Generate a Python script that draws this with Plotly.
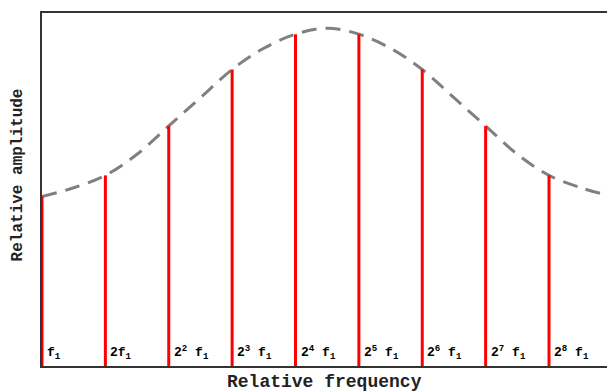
import plotly.graph_objects as go

# harmonic positions (index of 2^n) and their relative amplitudes
harmonics = [0, 1, 2, 3, 4, 5, 6, 7, 8]
amplitudes = [0.48, 0.54, 0.68, 0.84, 0.94, 0.94, 0.84, 0.68, 0.54]
labels = ["f<sub>1</sub>", "2f<sub>1</sub>", "2<sup>2</sup> f<sub>1</sub>",
          "2<sup>3</sup> f<sub>1</sub>", "2<sup>4</sup> f<sub>1</sub>",
          "2<sup>5</sup> f<sub>1</sub>", "2<sup>6</sup> f<sub>1</sub>",
          "2<sup>7</sup> f<sub>1</sub>", "2<sup>8</sup> f<sub>1</sub>"]

# envelope curve
env_x = [0, 0.5, 1, 1.5, 2, 2.5, 3, 3.5, 4, 4.5, 5, 5.5, 6, 6.5, 7, 7.5, 8, 8.5, 8.9]
env_y = [0.48, 0.505, 0.54, 0.60, 0.68, 0.76, 0.84, 0.90, 0.94, 0.957,
         0.94, 0.90, 0.84, 0.76, 0.68, 0.60, 0.54, 0.505, 0.485]

FONT = "Liberation Mono"

fig = go.Figure()

# Envolvente discontinua
fig.add_trace(go.Scatter(
    x=env_x, y=env_y, mode="lines", line_shape="spline",
    line=dict(color="#808080", width=3, dash="15px,9px"),
    hoverinfo="skip", showlegend=False,
))

# Líneas rojas de cada armónico
xs, ys = [], []
for h, a in zip(harmonics, amplitudes):
    xs += [h, h, None]
    ys += [0, a, None]
fig.add_trace(go.Scatter(
    x=xs, y=ys, mode="lines",
    line=dict(color="#ff0000", width=3),
    showlegend=False,
))

annotations = []
for h, lab in zip(harmonics, labels):
    annotations.append(dict(
        x=h, y=0, xref="x", yref="y", text=lab, showarrow=False,
        xanchor="left", yanchor="bottom", xshift=3, yshift=2,
        font=dict(family=FONT, size=13, color="black", weight="bold"),
    ))
annotations.append(dict(
    x=0.5, y=0, xref="paper", yref="paper", text="Relative frequency",
    showarrow=False, xanchor="center", yanchor="middle", yshift=-16,
    font=dict(family=FONT, size=18, color="#222", weight="bold"),
))
annotations.append(dict(
    x=0, y=0.54, xref="paper", yref="paper", text="Relative amplitude",
    showarrow=False, xanchor="center", yanchor="middle", xshift=-24,
    textangle=-90,
    font=dict(family=FONT, size=16, color="#222", weight="bold"),
))

fig.update_xaxes(
    range=[0, 8.915], showgrid=False, zeroline=False, showticklabels=False,
    ticks="", showline=True, linecolor="#333", linewidth=2, mirror=True,
    layer="below traces",
)
fig.update_yaxes(
    range=[0, 1], showgrid=False, zeroline=False, showticklabels=False,
    ticks="", showline=True, linecolor="#333", linewidth=2,
    layer="below traces",
)
fig.update_layout(
    width=607, height=391,
    margin=dict(l=42, r=0, t=13, b=25),
    plot_bgcolor="white", paper_bgcolor="white",
    annotations=annotations,
)

fig.write_html("out.html", config={"displayModeBar": False},
               post_script="document.body.style.margin='0';")
